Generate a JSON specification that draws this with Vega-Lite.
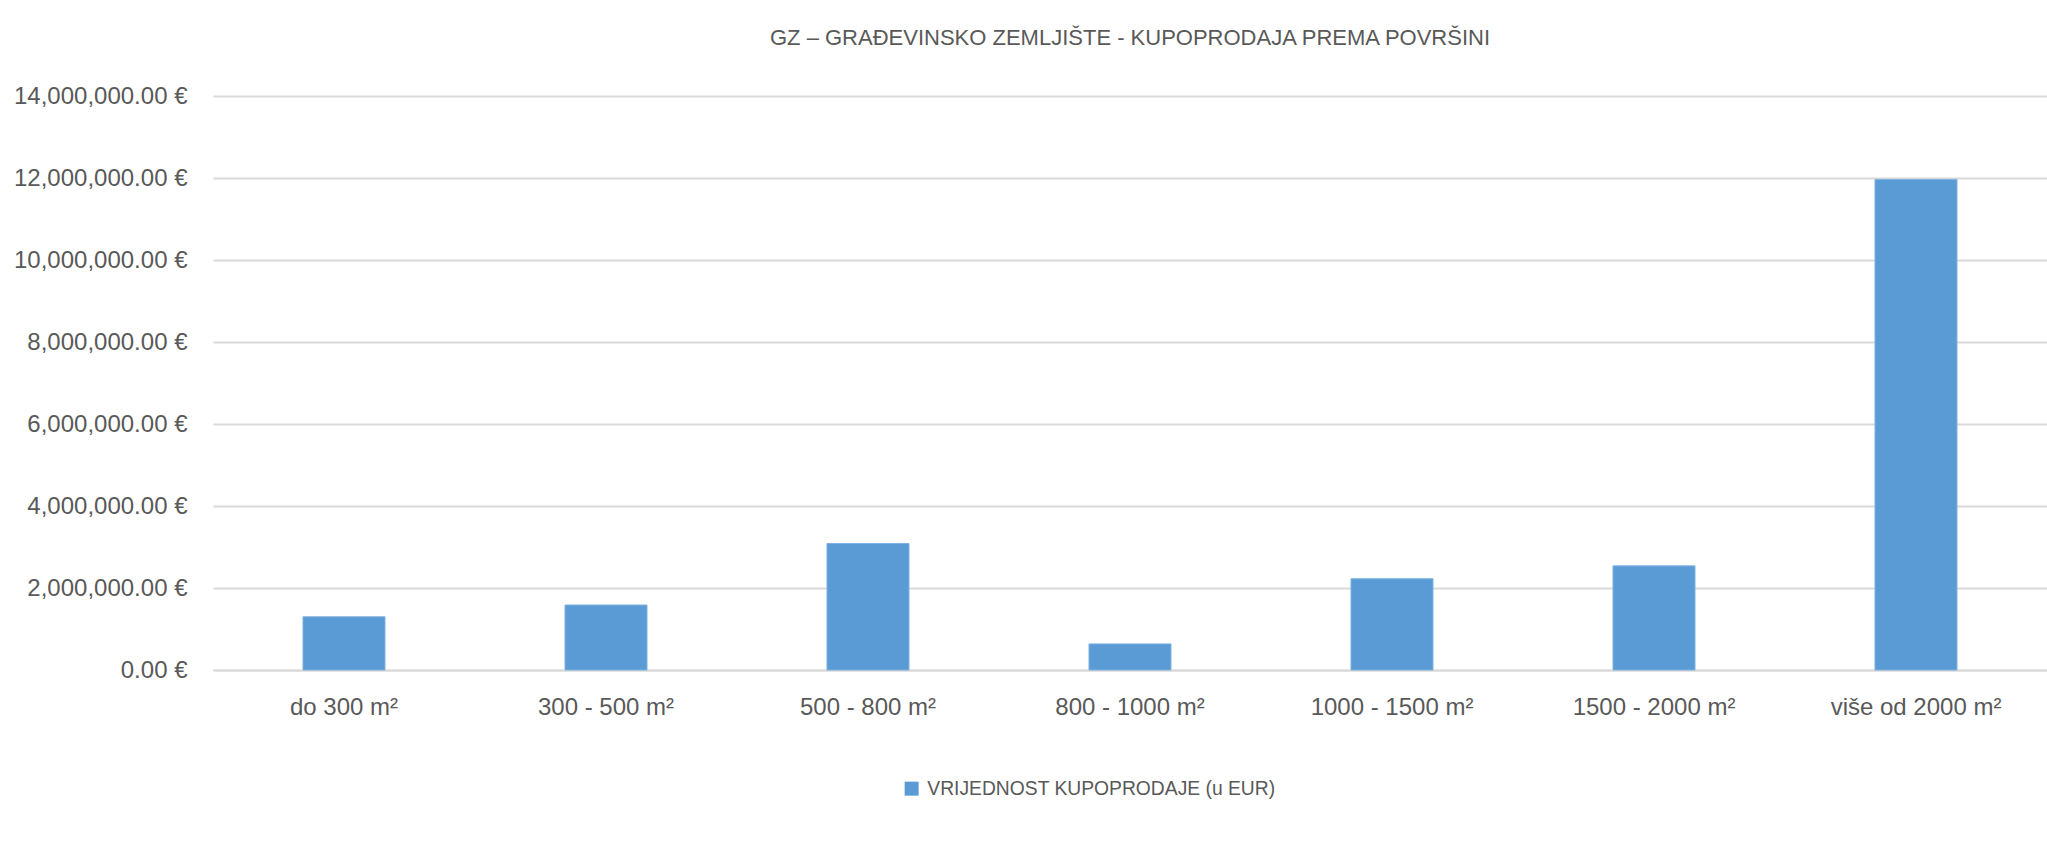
{
  "$schema": "https://vega.github.io/schema/vega-lite/v6.json",
  "autosize": {"type": "none"},
  "padding": {"left": 213, "top": 96, "right": 0, "bottom": 173},
  "width": 1834,
  "height": 574,
  "background": "white",
  "title": {
    "text": "GZ – GRAĐEVINSKO ZEMLJIŠTE - KUPOPRODAJA PREMA POVRŠINI",
    "anchor": "middle",
    "frame": "group",
    "font": "Liberation Sans",
    "fontSize": 22,
    "fontWeight": "normal",
    "color": "#595959",
    "offset": 34
  },
  "data": {
    "values": [
      {"kategorija": "do 300 m²", "vrijednost": 1298000, "serija": "VRIJEDNOST KUPOPRODAJE (u EUR)"},
      {"kategorija": "300 - 500 m²", "vrijednost": 1585000, "serija": "VRIJEDNOST KUPOPRODAJE (u EUR)"},
      {"kategorija": "500 - 800 m²", "vrijednost": 3085000, "serija": "VRIJEDNOST KUPOPRODAJE (u EUR)"},
      {"kategorija": "800 - 1000 m²", "vrijednost": 636000, "serija": "VRIJEDNOST KUPOPRODAJE (u EUR)"},
      {"kategorija": "1000 - 1500 m²", "vrijednost": 2225000, "serija": "VRIJEDNOST KUPOPRODAJE (u EUR)"},
      {"kategorija": "1500 - 2000 m²", "vrijednost": 2540000, "serija": "VRIJEDNOST KUPOPRODAJE (u EUR)"},
      {"kategorija": "više od 2000 m²", "vrijednost": 11965000, "serija": "VRIJEDNOST KUPOPRODAJE (u EUR)"}
    ]
  },
  "mark": {"type": "bar", "width": {"band": 0.313}, "stroke": "#7FB2E0", "strokeWidth": 1},
  "encoding": {
    "x": {
      "field": "kategorija",
      "type": "nominal",
      "sort": null,
      "scale": {"paddingInner": 0, "paddingOuter": 0},
      "axis": {
        "title": null,
        "labelAngle": 0,
        "labelFont": "Liberation Sans",
        "labelFontSize": 24,
        "labelColor": "#595959",
        "labelPadding": 25,
        "ticks": false,
        "domainColor": "#D9D9D9",
        "domainWidth": 2,
        "grid": false
      }
    },
    "y": {
      "field": "vrijednost",
      "type": "quantitative",
      "scale": {"domain": [0, 14000000], "nice": false},
      "axis": {
        "title": null,
        "values": [0, 2000000, 4000000, 6000000, 8000000, 10000000, 12000000, 14000000],
        "labelExpr": "format(datum.value, ',.2f') + ' €'",
        "labelFont": "Liberation Sans",
        "labelFontSize": 24,
        "labelColor": "#595959",
        "labelPadding": 26,
        "ticks": false,
        "domain": false,
        "grid": true,
        "gridColor": "#D9D9D9",
        "gridWidth": 2
      }
    },
    "color": {
      "field": "serija",
      "type": "nominal",
      "scale": {"range": ["#5B9BD5"]},
      "legend": {
        "title": null,
        "orient": "none",
        "legendX": 689,
        "legendY": 683,
        "padding": 0,
        "symbolType": "square",
        "symbolSize": 196,
        "symbolStrokeWidth": 0,
        "labelFont": "Liberation Sans",
        "labelFontSize": 19.3,
        "labelColor": "#595959",
        "labelOffset": 6,
        "labelLimit": 600
      }
    }
  },
  "config": {
    "view": {"stroke": null}
  }
}
